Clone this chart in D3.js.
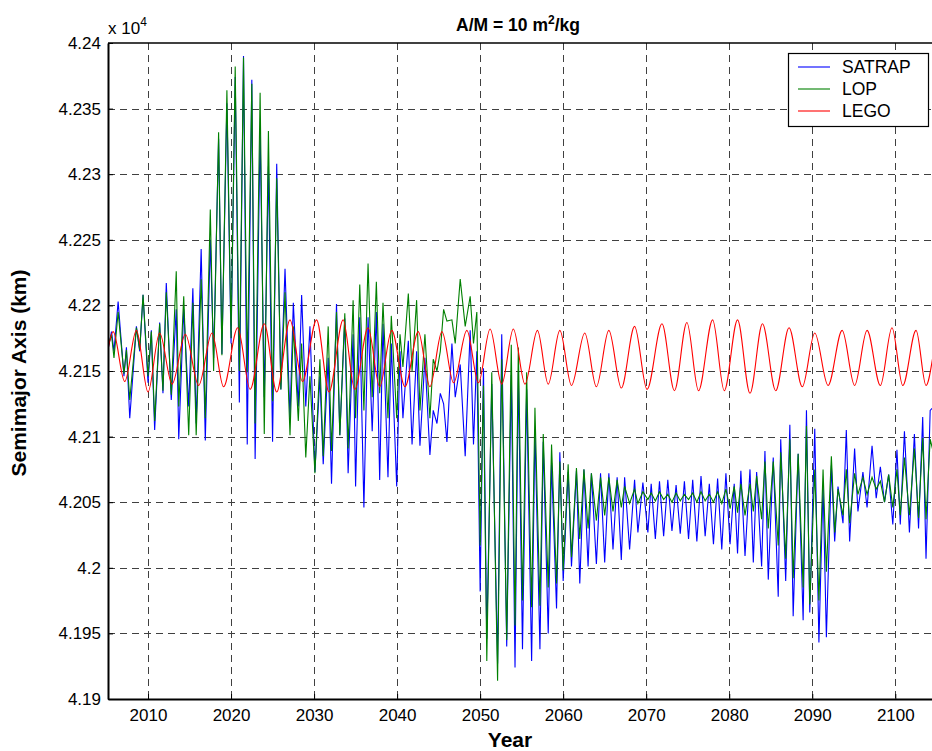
<!DOCTYPE html>
<html>
<head>
<meta charset="utf-8">
<script src="https://cdn.jsdelivr.net/npm/d3@7"></script>
<style>
  html, body { margin: 0; padding: 0; background: #fff; }
  svg { display: block; font-family: "Liberation Sans", Arial, Helvetica, sans-serif; }
</style>
</head>
<body>
<svg id="chart" width="932" height="751"></svg>
<script>
// Sample epochs (years) shared by the two propagated series
const years = [
  2005.2, 2005.6, 2005.9, 2006.4, 2007.1, 2007.4, 2007.8, 2008.6, 2009.0, 2009.4,
  2010.0, 2010.4, 2010.8, 2011.4, 2011.8, 2012.2, 2012.8, 2013.4, 2013.7, 2014.3,
  2014.9, 2015.4, 2015.8, 2016.4, 2016.9, 2017.5, 2017.9, 2018.5, 2018.9, 2019.5,
  2020.0, 2020.5, 2021.0, 2021.5, 2021.95, 2022.5, 2022.9, 2023.5, 2024.0, 2024.5,
  2025.0, 2025.5, 2026.0, 2026.5, 2027.1, 2027.5, 2028.1, 2028.5, 2029.0, 2029.5,
  2030.1, 2030.7, 2031.1, 2031.7, 2032.1, 2032.7, 2033.1, 2033.7, 2034.1, 2034.7,
  2035.0, 2035.5, 2036.0, 2036.5, 2037.0, 2037.5, 2037.9, 2038.3, 2038.9, 2039.3,
  2039.95, 2040.35, 2040.7, 2041.35, 2041.8, 2042.35, 2042.75, 2043.35, 2043.95, 2044.35,
  2044.8, 2045.2, 2045.6, 2046.0, 2046.6, 2047.0, 2047.6, 2048.2, 2048.8, 2049.2,
  2049.6, 2050.0, 2050.4, 2050.8, 2051.4, 2052.1, 2052.6, 2053.2, 2053.75, 2054.2,
  2054.6, 2055.1, 2055.6, 2056.2, 2056.6, 2057.2, 2057.6, 2058.2, 2058.6, 2059.2,
  2059.6, 2060.0, 2060.6, 2061.0, 2061.6, 2062.0, 2062.5, 2063.0, 2063.4, 2064.0,
  2064.5, 2065.0, 2065.5, 2066.0, 2066.5, 2067.0, 2067.4, 2068.0, 2068.6, 2069.0,
  2069.6, 2070.2, 2070.6, 2071.1, 2071.6, 2072.1, 2072.6, 2073.1, 2073.6, 2074.1,
  2074.6, 2075.1, 2075.6, 2076.1, 2076.6, 2077.1, 2077.6, 2078.1, 2078.6, 2079.1,
  2079.6, 2080.1, 2080.6, 2081.0, 2081.4, 2081.9, 2082.5, 2082.9, 2083.3, 2083.9,
  2084.3, 2084.7, 2085.3, 2085.9, 2086.2, 2086.8, 2087.3, 2087.7, 2088.3, 2088.9,
  2089.3, 2089.7, 2090.3, 2090.8, 2091.3, 2091.7, 2092.3, 2092.7, 2093.1, 2093.7,
  2094.1, 2094.5, 2095.1, 2095.5, 2096.1, 2096.6, 2097.2, 2097.7, 2098.2, 2098.7,
  2099.2, 2099.7, 2100.2, 2100.6, 2101.1, 2101.7, 2102.3, 2102.8, 2103.3, 2103.7,
  2104.2, 2104.5
];

// SATRAP semimajor axis (km)
const satrap = [
  42167, 42180, 42165, 42203, 42146, 42168, 42114, 42184, 42165, 42208,
  42141, 42181, 42105, 42187, 42133, 42217, 42128, 42197, 42098, 42197,
  42123, 42213, 42110, 42243, 42097, 42250, 42160, 42327, 42163, 42354,
  42171, 42374, 42126, 42390, 42094, 42372, 42083, 42332, 42130, 42306,
  42096, 42308, 42136, 42228, 42114, 42202, 42123, 42208, 42123, 42184,
  42073, 42146, 42079, 42160, 42064, 42201, 42101, 42190, 42072, 42178,
  42062, 42191, 42046, 42191, 42104, 42195, 42067, 42186, 42069, 42171,
  42062, 42165, 42114, 42173, 42094, 42165, 42093, 42160, 42086, 42120,
  42110, 42133, 42125, 42096, 42171, 42130, 42155, 42085, 42181, 42094,
  42165, 41982, 42152, 41946, 42140, 41927, 42178, 41940, 42147, 41924,
  42149, 41938, 42136, 41929, 42106, 41938, 42096, 41950, 42080, 41969,
  42088, 41990, 42073, 42001, 42074, 41988, 42075, 42001, 42072, 42003,
  42072, 42004, 42072, 42014, 42069, 42006, 42069, 42014, 42067, 42027,
  42065, 42027, 42064, 42022, 42066, 42024, 42067, 42028, 42063, 42026,
  42066, 42022, 42067, 42020, 42070, 42024, 42064, 42018, 42068, 42014,
  42072, 42018, 42064, 42011, 42074, 42009, 42075, 42004, 42073, 42001,
  42089, 41991, 42084, 41978, 42098, 41990, 42109, 41963, 42087, 41960,
  42120, 41966, 42106, 41943, 42063, 41947, 42078, 42020, 42062, 42034,
  42105, 42020, 42091, 42043, 42073, 42046, 42093, 42053, 42077, 42050,
  42071, 42033, 42090, 42033, 42104, 42027, 42102, 42030, 42115, 42007,
  42120, 42122
];

// LOP semimajor axis (km)
const lop = [
  42169, 42178, 42160, 42195, 42148, 42166, 42128, 42183, 42166, 42208,
  42146, 42180, 42112, 42186, 42135, 42210, 42132, 42226, 42123, 42207,
  42101, 42202, 42101, 42220, 42114, 42273, 42150, 42332, 42162, 42364,
  42175, 42382, 42150, 42389, 42149, 42369, 42110, 42362, 42102, 42333,
  42127, 42297, 42136, 42210, 42101, 42184, 42112, 42171, 42084, 42146,
  42072, 42159, 42085, 42184, 42089, 42195, 42101, 42194, 42091, 42204,
  42114, 42216, 42120, 42232, 42130, 42218, 42133, 42202, 42114, 42192,
  42114, 42178, 42153, 42209, 42150, 42204, 42120, 42178, 42114, 42159,
  42150, 42165, 42197, 42188, 42189, 42171, 42220, 42184, 42207, 42171,
  42195, 42017, 42139, 41929, 42149, 41914, 42159, 41945, 42170, 41956,
  42168, 41975, 42149, 41970, 42122, 41971, 42102, 41985, 42094, 41988,
  42081, 41998, 42079, 42008, 42076, 42022, 42075, 42030, 42072, 42036,
  42069, 42040, 42069, 42043, 42067, 42046, 42062, 42049, 42060, 42049,
  42058, 42052, 42057, 42051, 42058, 42052, 42056, 42050, 42057, 42051,
  42056, 42052, 42057, 42050, 42058, 42051, 42056, 42050, 42058, 42049,
  42060, 42045, 42062, 42042, 42064, 42040, 42064, 42043, 42070, 42037,
  42081, 42030, 42081, 42017, 42088, 42007, 42098, 41992, 42087, 41985,
  42108, 41972, 42075, 41975, 42075, 41997, 42085, 42027, 42060, 42040,
  42075, 42034, 42072, 42056, 42069, 42056, 42069, 42060, 42066, 42050,
  42071, 42046, 42075, 42040, 42084, 42040, 42091, 42038, 42099, 42037,
  42098, 42090
];

// LEGO semimajor axis: epochs of successive maxima/minima and their values (km)
const legoYears = [
  2005.2, 2005.8, 2007.2, 2008.6, 2010.0, 2011.4, 2012.9, 2014.5, 2016.1, 2017.7,
  2019.1, 2020.8, 2022.3, 2024.0, 2025.5, 2027.1, 2028.6, 2030.3, 2031.8, 2033.5,
  2034.9, 2036.5, 2037.9, 2039.35, 2040.95, 2042.55, 2043.95, 2045.4, 2046.8, 2048.4,
  2049.8, 2051.2, 2052.6, 2054.0, 2055.4, 2056.9, 2058.2, 2059.6, 2061.0, 2062.6,
  2064.0, 2065.5, 2067.0, 2068.6, 2070.1, 2071.9, 2073.4, 2074.9, 2076.3, 2078.0,
  2079.4, 2081.0, 2082.5, 2084.0, 2085.6, 2087.2, 2088.8, 2090.3, 2091.9, 2093.6,
  2095.1, 2096.6, 2098.2, 2099.6, 2100.9, 2102.5, 2103.7, 2104.5
];
const lego = [
  42167, 42180, 42142, 42181, 42134, 42179, 42140, 42178, 42139, 42179,
  42138, 42183, 42136, 42186, 42134, 42189, 42142, 42189, 42134, 42189,
  42136, 42183, 42138, 42181, 42138, 42180, 42138, 42180, 42141, 42181,
  42141, 42182, 42140, 42182, 42140, 42181, 42140, 42181, 42139, 42179,
  42138, 42181, 42137, 42184, 42136, 42186, 42135, 42187, 42135, 42189,
  42135, 42189, 42133, 42186, 42135, 42183, 42138, 42179, 42139, 42181,
  42139, 42181, 42139, 42183, 42139, 42181, 42139, 42160
];

const xTicks = [2010, 2020, 2030, 2040, 2050, 2060, 2070, 2080, 2090, 2100];
const yTicks = [41900, 41950, 42000, 42050, 42100, 42150, 42200, 42250, 42300, 42350, 42400];
const yTickLabels = ["4.19", "4.195", "4.2", "4.205", "4.21", "4.215", "4.22", "4.225", "4.23", "4.235", "4.24"];

const seriesNames = ["SATRAP", "LOP", "LEGO"];
const seriesColors = ["#0000ff", "#008000", "#ff0000"];

const svg = d3.select("#chart");
const L = 108, R = 932, T = 43, B = 699;

const x = d3.scaleLinear().domain([2005.18, 2104.42]).range([L, R]);
const y = d3.scaleLinear().domain([41900, 42400]).range([B, T]);

// grid
const grid = svg.append("g").attr("stroke", "#404040").attr("stroke-width", 1)
  .attr("stroke-dasharray", "7,5").attr("shape-rendering", "crispEdges");
grid.selectAll("line.gx").data(xTicks).join("line").attr("class", "gx")
  .attr("x1", d => Math.round(x(d)) + 0.5).attr("x2", d => Math.round(x(d)) + 0.5)
  .attr("y1", T).attr("y2", B);
grid.selectAll("line.gy").data(yTicks.slice(1, -1)).join("line").attr("class", "gy")
  .attr("y1", d => Math.round(y(d)) + 0.5).attr("y2", d => Math.round(y(d)) + 0.5)
  .attr("x1", L).attr("x2", R);

// clip to the axes box
svg.append("clipPath").attr("id", "plotclip").append("rect")
  .attr("x", L).attr("y", T).attr("width", R - L).attr("height", B - T);

const plot = svg.append("g").attr("clip-path", "url(#plotclip)");

const line = d3.line().x(d => x(d[0])).y(d => y(d[1]));
const smooth = d3.line().x(d => x(d[0])).y(d => y(d[1])).curve(d3.curveMonotoneX);

plot.append("path").datum(years.map((t, i) => [t, satrap[i]]))
  .attr("fill", "none").attr("stroke", seriesColors[0]).attr("stroke-width", 1.1)
  .attr("d", line);
plot.append("path").datum(years.map((t, i) => [t, lop[i]]))
  .attr("fill", "none").attr("stroke", seriesColors[1]).attr("stroke-width", 1.1)
  .attr("d", line);
plot.append("path").datum(legoYears.map((t, i) => [t, lego[i]]))
  .attr("fill", "none").attr("stroke", seriesColors[2]).attr("stroke-width", 1.1)
  .attr("d", smooth);

// axes
const xAxis = d3.axisBottom(x).tickValues(xTicks).tickSizeInner(-5).tickSizeOuter(0)
  .tickPadding(10).tickFormat(d3.format("d"));
const yAxis = d3.axisLeft(y).tickValues(yTicks).tickSizeInner(-5).tickSizeOuter(0)
  .tickPadding(7).tickFormat((d, i) => yTickLabels[i]);

const gx = svg.append("g").attr("transform", `translate(0,${B})`).call(xAxis);
const gy = svg.append("g").attr("transform", `translate(${L},0)`).call(yAxis);
[gx, gy].forEach(g => {
  g.select(".domain").attr("stroke", "#000").attr("stroke-width", 2);
  g.selectAll(".tick line").attr("stroke", "#000");
  g.selectAll(".tick text").attr("fill", "#000").attr("font-size", 17)
    .attr("font-family", "'Liberation Sans', Arial, sans-serif");
});
// top border
svg.append("line").attr("x1", L).attr("x2", R).attr("y1", T).attr("y2", T)
  .attr("stroke", "#000").attr("stroke-width", 1.5);

// exponent label
const expo = svg.append("text").attr("x", 108).attr("y", 34).attr("font-size", 17).attr("fill", "#000");
expo.append("tspan").text("x 10");
expo.append("tspan").attr("dy", -8).attr("font-size", 12).text("4");

// title
const title = svg.append("text").attr("x", 518).attr("y", 31).attr("text-anchor", "middle")
  .attr("font-size", 17.5).attr("font-weight", "bold").attr("fill", "#000");
title.append("tspan").text("A/M = 10 m");
title.append("tspan").attr("dy", -7).attr("font-size", 12).text("2");
title.append("tspan").attr("dy", 7).text("/kg");

// axis titles
svg.append("text").attr("x", 510).attr("y", 747).attr("text-anchor", "middle")
  .attr("font-size", 21).attr("font-weight", "bold").attr("fill", "#000").text("Year");
svg.append("text").attr("transform", "translate(26,373) rotate(-90)").attr("text-anchor", "middle")
  .attr("font-size", 21).attr("font-weight", "bold").attr("fill", "#000").text("Semimajor Axis (km)");

// legend
const lg = svg.append("g");
lg.append("rect").attr("x", 788.5).attr("y", 53.5).attr("width", 140).attr("height", 73)
  .attr("fill", "#fff").attr("stroke", "#000").attr("stroke-width", 1.2);
seriesNames.forEach((name, i) => {
  const yy = 67 + i * 22;
  lg.append("line").attr("x1", 798).attr("x2", 830).attr("y1", yy).attr("y2", yy)
    .attr("stroke", seriesColors[i]).attr("stroke-width", 1.1);
  lg.append("text").attr("x", 842).attr("y", yy + 6).attr("font-size", 17.5)
    .attr("fill", "#000").text(name);
});
</script>
</body>
</html>
